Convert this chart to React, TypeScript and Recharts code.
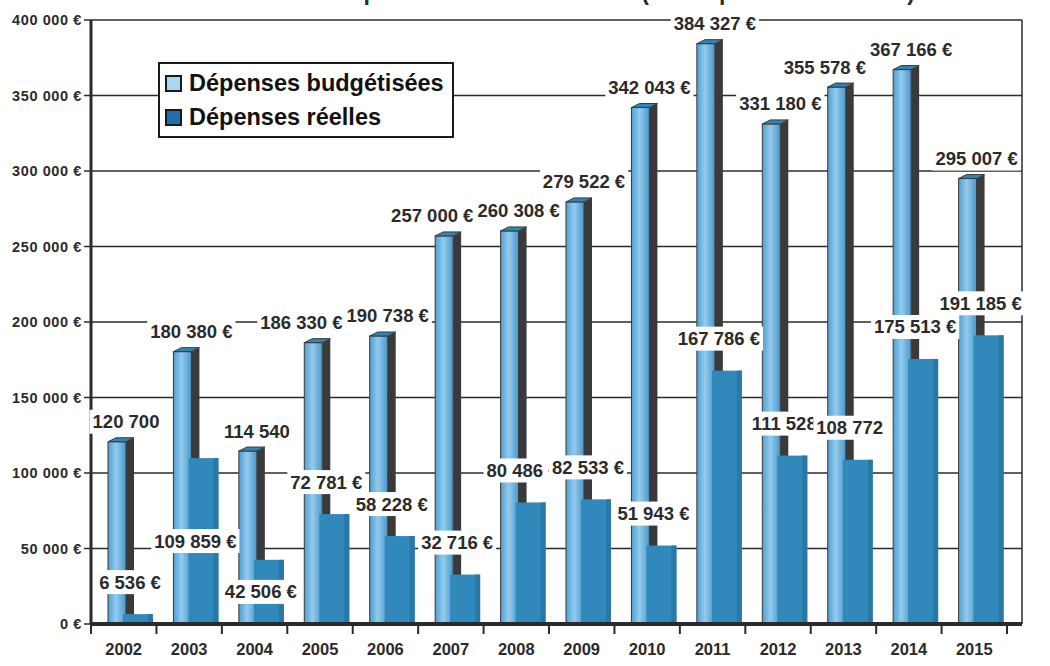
import React from "react";
import { Bar, BarChart, CartesianGrid, LabelList, XAxis, YAxis } from "recharts";

const years = ["2002", "2003", "2004", "2005", "2006", "2007", "2008", "2009", "2010", "2011", "2012", "2013", "2014", "2015"];

const budgeted = [120700, 180380, 114540, 186330, 190738, 257000, 260308, 279522, 342043, 384327, 331180, 355578, 367166, 295007];
const actual = [6536, 109859, 42506, 72781, 58228, 32716, 80486, 82533, 51943, 167786, 111528, 108772, 175513, 191185];

const budgetLabels = ["120 700", "180 380 €", "114 540", "186 330 €", "190 738 €", "257 000 €", "260 308 €", "279 522 €", "342 043 €", "384 327 €", "331 180 €", "355 578 €", "367 166 €", "295 007 €"];
const actualLabels = ["6 536 €", "109 859 €", "42 506 €", "72 781 €", "58 228 €", "32 716 €", "80 486 €", "82 533 €", "51 943 €", "167 786 €", "111 528", "108 772", "175 513 €", "191 185 €"];

const yTicks = [0, 50000, 100000, 150000, 200000, 250000, 300000, 350000, 400000];

const FONT = "'Liberation Sans', Arial, sans-serif";
const INK = "#2b2b2b";
const BAND = 65.4;
const LABEL_SIZE = 18.5;
const PLOT_TOP = 20;
const PLOT_BOTTOM = 624;
const Y_MAX = 400000;

const euro = (v: number) => String(v).replace(/\B(?=(\d{3})+(?!\d))/g, " ") + " €";

// rough width of a bold label: digits and € are 0.556em, spaces 0.278em
const textWidth = (s: string, size: number) =>
  s.split("").reduce((w, ch) => w + (ch === " " ? 0.278 : 0.556), 0) * size;

// approximate pixel height, only used to decide where a label can go without colliding
const approxY = (v: number) => PLOT_BOTTOM - (v / Y_MAX) * (PLOT_BOTTOM - PLOT_TOP);

type Box = { x: number; y: number; w: number };
const hits = (a: Box, b: Box) => Math.abs(a.x - b.x) < (a.w + b.w) / 2 - 2 && Math.abs(a.y - b.y) < 20;

const budgetBoxes: Box[] = budgeted.map((v, i) => ({
  x: i * BAND + 2.5,
  y: approxY(v) - 20,
  w: textWidth(budgetLabels[i], LABEL_SIZE) + 6,
}));

// a budget label that runs into the next one is pushed to the left
const budgetShift: number[] = budgeted.map(() => 0);
for (let i = 1; i < budgetBoxes.length; i++) {
  const a = budgetBoxes[i - 1];
  const b = budgetBoxes[i];
  if (hits(a, b)) {
    const push = (a.w + b.w) / 2 - Math.abs(a.x - b.x) - 2;
    budgetShift[i - 1] -= push;
    a.x -= push;
  }
}

// real-spending labels sit above their bar, or in the middle of it when that would collide
const actualInside: boolean[] = [];
actual.forEach((v, i) => {
  const box = { x: i * BAND + 6.5, y: approxY(v) - 32, w: textWidth(actualLabels[i], LABEL_SIZE) + 6 };
  let clash = [i - 1, i, i + 1].some((j) => budgetBoxes[j] && hits(box, budgetBoxes[j]));
  if (i > 0 && actualInside[i - 1]) {
    const prev = {
      x: (i - 1) * BAND + 6.5,
      y: (approxY(actual[i - 1]) + PLOT_BOTTOM) / 2,
      w: textWidth(actualLabels[i - 1], LABEL_SIZE) + 6,
    };
    clash = clash || hits(box, prev);
  }
  actualInside.push(clash);
});

const data = years.map((year, i) => ({
  year,
  budgeted: budgeted[i],
  actual: actual[i],
  budgetLabel: budgetLabels[i],
  actualLabel: actualLabels[i],
}));

function BudgetShape(props: any) {
  const { x, y, height } = props;
  const bx = x + 7;
  const face = 18;
  const depth = 8;
  const lift = 4;
  return (
    <g>
      <polygon
        points={`${bx + face},${y} ${bx + face + depth},${y - lift} ${bx + face + depth},${y + height - lift} ${bx + face},${y + height}`}
        fill="#3a3a3a"
      />
      <rect x={bx} y={y} width={face} height={height} fill="url(#budgetFace)" stroke="#3a3a3a" strokeWidth={1} />
      <polygon
        points={`${bx},${y} ${bx + depth},${y - lift} ${bx + face + depth},${y - lift} ${bx + face},${y}`}
        fill="#2f86b5"
        stroke="#3a3a3a"
        strokeWidth={1}
      />
    </g>
  );
}

function ActualShape(props: any) {
  const { x, y, width, height } = props;
  const bx = x + 7;
  return (
    <g>
      <rect x={bx} y={y} width={width} height={height} fill="#3189bb" />
      <rect x={bx + width - 5} y={y} width={5} height={height} fill="#2a78a6" />
    </g>
  );
}

function LabelBox({ cx, cy, value }: { cx: number; cy: number; value: string }) {
  const w = textWidth(String(value), LABEL_SIZE) + 6;
  return (
    <g>
      <rect x={cx - w / 2} y={cy - 12} width={w} height={24} fill="#ffffff" />
      <text
        x={cx}
        y={cy}
        textAnchor="middle"
        dominantBaseline="central"
        fontFamily={FONT}
        fontWeight={700}
        fontSize={LABEL_SIZE}
        fill={INK}
      >
        {value}
      </text>
    </g>
  );
}

function BudgetLabel(props: any) {
  const { x, y, width, value, index } = props;
  return <LabelBox cx={x + 7 + width / 2 + 5 + budgetShift[index]} cy={y - 20} value={value} />;
}

function ActualLabel(props: any) {
  const { x, y, width, height, value, index } = props;
  const cy = actualInside[index] ? y + height / 2 : y - 32;
  return <LabelBox cx={x + 7 + width / 2 - 8} cy={cy} value={value} />;
}

function YearTick(props: any) {
  const { x, y, payload, index } = props;
  return (
    <g>
      <line x1={x - BAND / 2} y1={y - 8} x2={x - BAND / 2} y2={y + 2} stroke={INK} strokeWidth={2} />
      {index === years.length - 1 && (
        <line x1={x + BAND / 2} y1={y - 8} x2={x + BAND / 2} y2={y + 2} stroke={INK} strokeWidth={2} />
      )}
      <text x={x} y={y + 23} textAnchor="middle" fontFamily={FONT} fontWeight={700} fontSize={16.5} fill={INK}>
        {payload.value}
      </text>
    </g>
  );
}

function LegendBox() {
  const row = (color: string, label: string) => (
    <div style={{ display: "flex", alignItems: "center", height: 34, whiteSpace: "nowrap" }}>
      <span
        style={{
          display: "inline-block",
          flex: "none",
          width: 13,
          height: 13,
          background: color,
          border: "2px solid #1a1a1a",
          marginRight: 7,
        }}
      />
      <span style={{ fontFamily: FONT, fontWeight: 700, fontSize: 23.5, color: "#111" }}>{label}</span>
    </div>
  );
  return (
    <div
      style={{
        position: "absolute",
        left: 158,
        top: 62,
        boxSizing: "border-box",
        border: "2px solid #1a1a1a",
        background: "#fff",
        padding: "2px 5px",
        width: 296,
      }}
    >
      {row("#a9d6f0", "Dépenses budgétisées")}
      {row("#1f6fae", "Dépenses réelles")}
    </div>
  );
}

export default function App() {
  return (
    <div style={{ position: "absolute", left: 0, top: 0, width: 1050, height: 666, background: "#fff", overflow: "hidden" }}>
      <BarChart
        width={1050}
        height={666}
        data={data}
        margin={{ top: PLOT_TOP, right: 0, bottom: 0, left: 0 }}
        barGap={-11}
        style={{ position: "absolute", left: 0, top: 0 }}
      >
        <defs>
          <linearGradient id="budgetFace" x1="0" y1="0" x2="1" y2="0">
            <stop offset="0%" stopColor="#4f9fd0" />
            <stop offset="45%" stopColor="#93cbee" />
            <stop offset="100%" stopColor="#4a98c9" />
          </linearGradient>
        </defs>
        <CartesianGrid vertical={false} stroke={INK} strokeWidth={1.5} />
        <XAxis
          dataKey="year"
          height={42}
          padding={{ left: 0, right: 15 }}
          tickLine={false}
          axisLine={{ stroke: INK, strokeWidth: 4 }}
          tick={<YearTick />}
          interval={0}
        />
        <YAxis
          width={91}
          domain={[0, Y_MAX]}
          ticks={yTicks}
          tickFormatter={euro}
          tickSize={7}
          tickMargin={2}
          tickLine={{ stroke: INK, strokeWidth: 1.5 }}
          axisLine={{ stroke: INK, strokeWidth: 3 }}
          tick={{ fontFamily: FONT, fontWeight: 700, fontSize: 14.5, letterSpacing: 0.6, fill: INK }}
        />
        <YAxis
          yAxisId="wall"
          orientation="right"
          width={28}
          domain={[0, Y_MAX]}
          tick={false}
          tickLine={false}
          axisLine={{ stroke: INK, strokeWidth: 1.5 }}
        />
        <Bar dataKey="budgeted" name="Dépenses budgétisées" barSize={26} shape={<BudgetShape />} isAnimationActive={false}>
          <LabelList dataKey="budgetLabel" content={<BudgetLabel />} />
        </Bar>
        <Bar dataKey="actual" name="Dépenses réelles" barSize={30} shape={<ActualShape />} isAnimationActive={false}>
          <LabelList dataKey="actualLabel" content={<ActualLabel />} />
        </Bar>
      </BarChart>
      <LegendBox />
      <div
        style={{
          position: "absolute",
          right: 135,
          top: -21,
          fontFamily: FONT,
          fontWeight: 700,
          fontSize: 23,
          color: INK,
          whiteSpace: "nowrap",
        }}
      >
        Évolution des dépenses d'investissement (hors opérations d'ordre)
      </div>
    </div>
  );
}
